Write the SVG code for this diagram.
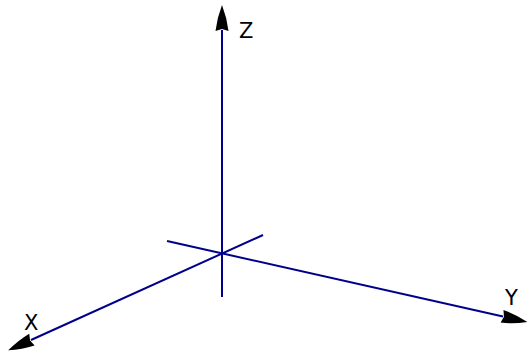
<svg xmlns="http://www.w3.org/2000/svg" width="528" height="356" viewBox="0 0 528 356">
<style>
.ax{stroke:#00008b;stroke-width:2;fill:none;marker-end:url(#ah)}
.lbl{font-family:"DejaVu Sans",sans-serif;font-size:21px;fill:#000}
</style>
<defs>
<marker id="ah" markerUnits="userSpaceOnUse" markerWidth="30" markerHeight="16" refX="0" refY="0" viewBox="-2 -8 30 16" orient="auto" overflow="visible">
<path d="M-1,-6.5 Q12,-5 25,0 Q12,5 -1,6.5 L1,0 Z" fill="#000"/>
</marker>
</defs>
<rect width="528" height="356" fill="#fff"/>
<g id="connectors">
<line id="z-axis" class="ax" x1="222" y1="297" x2="222" y2="30"/>
<line id="x-axis" class="ax" x1="263" y1="235" x2="31" y2="340"/>
<line id="y-axis" class="ax" x1="167" y1="241" x2="503" y2="316.5"/>
</g>
<g id="label-z"><text class="lbl" x="239" y="38">Z</text></g>
<g id="label-x"><text class="lbl" x="24" y="330">X</text></g>
<g id="label-y"><text class="lbl" x="505" y="305">Y</text></g>
</svg>
